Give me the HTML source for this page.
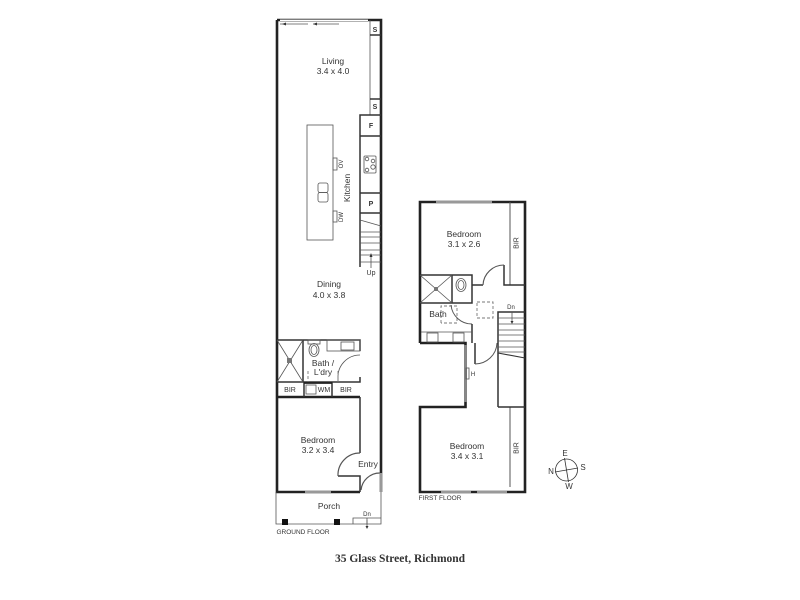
<!DOCTYPE html>
<html><head><meta charset="utf-8"><style>
html,body{margin:0;padding:0;background:#fff;width:800px;height:600px;overflow:hidden}
svg{display:block}
text{font-family:"Liberation Sans",sans-serif;font-size:8.5px;fill:#333;text-anchor:middle}
.w{stroke:#222;stroke-width:2.6;fill:none}
.m{stroke:#333;stroke-width:1.5;fill:none}
.t{stroke:#555;stroke-width:.8;fill:none}
.g{stroke:#999;stroke-width:2.6;fill:none}
.d{stroke:#777;stroke-width:.9;fill:none;stroke-dasharray:3 2}
.s{font-size:7px}
</style></head><body>
<svg width="800" height="600" viewBox="0 0 800 600" xmlns="http://www.w3.org/2000/svg">
<!-- Ground floor shell -->
<path class="w" d="M277 20V492H360M277 20H381V473M381 473V492"/>
<path class="g" d="M280 20.500H368"/>
<path stroke="#fff" stroke-width="1" d="M280 20.500H368"/>
<path class="t" d="M280 24H308M313 24H339"/>
<path fill="#333" d="M282 24l4-1.500v3zM313 24l4-1.500v3z"/>
<path class="g" d="M305 492H331"/>
<!-- Joinery -->
<path class="t" stroke-width="1" d="M370 20V115"/>
<path class="m" d="M370 35H381M370 99H381"/>
<path class="m" d="M360 267V115H381M360 136H381M360 193H381M360 213H381"/>
<path class="t" d="M360 220L381 226M360 232H381M360 237H381M360 243H381M360 250H381M360 255H381M360 262H381"/>
<path class="t" d="M371 268V256"/><path fill="#333" d="M371 253l-1.500 4h3z"/>
<rect class="t" x="307" y="125" width="26" height="115"/>
<rect class="t" x="333" y="158" width="4" height="12"/>
<rect class="t" x="333" y="211" width="4" height="11"/>
<rect class="t" x="318" y="183" width="10" height="9.500" rx="2"/>
<rect class="t" x="318" y="192.500" width="10" height="9.500" rx="2"/>
<rect class="t" x="364" y="156" width="12" height="17" rx="1" fill="#eee"/>
<circle class="t" cx="367" cy="159" r="1.800"/><circle class="t" cx="373" cy="161" r="1.800"/><circle class="t" cx="373" cy="167" r="2.200"/><circle class="t" cx="367" cy="170" r="1.800"/>
<!-- Bath / Ldry -->
<path class="m" d="M277 340H360V351M360 377V382H277"/>
<path class="w" d="M277 397H360"/>
<path class="m" d="M303 340V382"/>
<path class="t" d="M277 340L303 382M303 340L277 382"/>
<rect x="287" y="358" width="5" height="5" fill="#777"/>
<path class="t" d="M360 355A22 22 0 0 0 338 378V382"/>
<rect class="t" x="308" y="340" width="12" height="4"/>
<ellipse class="t" cx="314" cy="350" rx="5" ry="6.500"/><ellipse class="t" cx="314" cy="350" rx="3" ry="4.500"/>
<rect class="t" x="327" y="340" width="33" height="11"/>
<rect class="t" x="341" y="342" width="13" height="8"/>
<path class="d" d="M308 371V382M338 371V382"/>
<path class="m" d="M304 382V397M332 382V397"/>
<path class="w" d="M304 383H332" style="stroke-width:1.800"/>
<rect class="t" x="306" y="385" width="10" height="9"/>
<!-- Bedroom / Entry -->
<path class="m" d="M360 397V453M338 476H360V492"/>
<path class="t" style="stroke-width:1.200" d="M360 453A22 22 0 0 0 338 476"/>
<path class="t" style="stroke-width:1.200" d="M361 490A19 19 0 0 1 380 473"/>
<path class="g" d="M381 473V492"/>
<!-- Porch -->
<path class="t" d="M276 492V524H381V492"/>
<rect x="282" y="519" width="6" height="6" fill="#111"/>
<rect x="334" y="519" width="6" height="6" fill="#111"/>
<path class="t" d="M353 524V518H381M367 518V524"/>
<path class="t" d="M367 520V528"/><path fill="#333" d="M367 529l-1.500-3h3z"/>
<!-- First floor shell -->
<path class="w" d="M420 343V202H525V492H420V407H465.500V343H420"/>
<path class="g" d="M436 202H492M441 492H471M477 492H507"/>
<path class="g" style="stroke:#888" d="M465.500 345V402"/>
<path class="t" style="stroke-width:1" d="M510 202V285M510 407V487"/>
<path class="m" d="M420 275H472V303H420M452 275V303M472 285H483M504 265V285H525"/>
<path class="t" style="stroke-width:1.100" d="M483 285A21 21 0 0 1 504 265"/>
<path class="t" d="M420 275L452 303M452 275L420 303"/>
<rect x="434" y="287" width="4" height="4" fill="#777"/>
<ellipse class="t" cx="461" cy="285" rx="5" ry="6.500"/><ellipse class="t" cx="461" cy="285" rx="3" ry="4.500"/>
<path class="d" d="M441 323V306H457V323H441"/>
<rect class="d" x="477" y="302" width="16" height="16"/>
<path class="t" style="stroke-width:1" d="M451 305A21 21 0 0 0 472 324"/>
<path class="m" d="M472 324V343"/>
<path class="t" d="M421 332H472"/>
<rect class="t" x="427" y="333" width="11" height="9"/>
<rect class="t" x="453" y="333" width="11" height="9"/>
<path class="m" d="M475 343V364"/>
<path class="t" style="stroke-width:1" d="M475 364A22 22 0 0 0 497 343"/>
<path class="m" d="M498 407V312H525M498 407H525"/>
<path class="t" d="M498 318H525M498 324H525M498 330H525M498 335H525M498 341H525M498 347H525M498 352H525"/>
<path class="m" style="stroke-width:1.100" d="M498 353L525 358"/>
<path class="t" d="M512 312V323"/><path fill="#333" d="M512 324l-1.500-3h3z"/>
<rect class="t" x="466" y="368" width="3" height="11"/>
<!-- Compass -->
<circle class="t" style="stroke:#333" cx="566.500" cy="470" r="11"/>
<path class="t" style="stroke:#333" d="M555 472L578 468M564.500 458L568.500 482"/>
<!-- Labels -->
<text x="333" y="64">Living</text><text x="333" y="74">3.4 x 4.0</text>
<text x="329" y="287">Dining</text><text x="329" y="298">4.0 x 3.8</text>
<text x="323" y="366">Bath /</text><text x="323" y="375">L'dry</text>
<text x="318" y="443">Bedroom</text><text x="318" y="453">3.2 x 3.4</text>
<text x="368" y="467">Entry</text>
<text x="329" y="509">Porch</text>
<text x="375" y="32" class="s" font-weight="bold">S</text>
<text x="375" y="109" class="s" font-weight="bold">S</text>
<text x="371" y="128" class="s" font-weight="bold">F</text>
<text x="371" y="206" class="s" font-weight="bold">P</text>
<text class="s" x="371" y="275">Up</text>
<text class="s" x="367" y="516" style="font-size:6px">Dn</text>
<text x="0" y="0" transform="translate(350,188) rotate(-90)">Kitchen</text>
<text class="s" x="0" y="0" style="font-size:6px" transform="translate(343,164) rotate(-90)">OV</text>
<text class="s" x="0" y="0" style="font-size:6px" transform="translate(343,217) rotate(-90)">DW</text>
<text class="s" x="290" y="392">BIR</text>
<text class="s" x="324" y="392">WM</text>
<text class="s" x="346" y="392">BIR</text>
<text x="303" y="534" style="font-size:6.500px">GROUND FLOOR</text>
<text x="464" y="237">Bedroom</text><text x="464" y="247">3.1 x 2.6</text>
<text x="467" y="449">Bedroom</text><text x="467" y="459">3.4 x 3.1</text>
<text x="438" y="317">Bath</text>
<text class="s" x="511" y="309" style="font-size:6px">Dn</text>
<text class="s" x="473" y="376" style="font-size:6px">H</text>
<text class="s" x="0" y="0" transform="translate(518.500,243) rotate(-90)">BIR</text>
<text class="s" x="0" y="0" transform="translate(518.500,448) rotate(-90)">BIR</text>
<text x="440" y="500" style="font-size:6.500px">FIRST FLOOR</text>
<text x="565" y="456" class="s" style="font-size:8px">E</text>
<text x="583" y="470" class="s" style="font-size:8px">S</text>
<text x="569" y="489" class="s" style="font-size:8px">W</text>
<text x="551" y="474" class="s" style="font-size:8px">N</text>
<text x="400" y="562" style="font-family:'Liberation Serif',serif;font-size:11.500px;font-weight:bold;fill:#333">35 Glass Street, Richmond</text>
</svg>
</body></html>
